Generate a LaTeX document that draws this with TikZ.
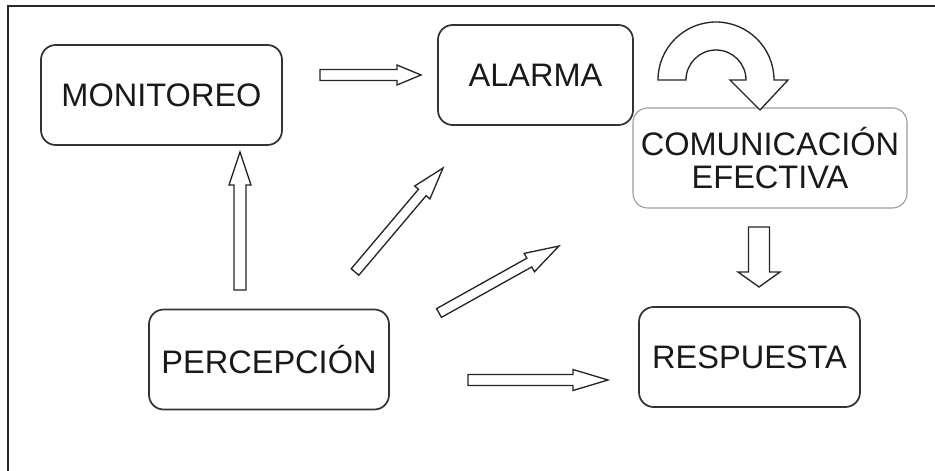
\documentclass[tikz,border=0pt]{standalone}
\usepackage{fontspec}
\setmainfont{Liberation Sans}
\usetikzlibrary{calc}
\newcommand{\px}{0.75pt}
% hollow block arrow: tail, tip, shaft half width, head half width, head length (px)
\newcommand{\blockarrow}[5]{%
  \draw[hollow] let \p1=($(#2)-(#1)$), \n1={atan2(\y1,\x1)}, \n2={veclen(\x1,\y1)} in
    [shift={(#1)}, rotate=\n1] (0pt,{#3*\px}) -- ({\n2-#5*\px},{#3*\px}) -- ({\n2-#5*\px},{#4*\px})
    -- ({\n2},0pt) -- ({\n2-#5*\px},{-#4*\px}) -- ({\n2-#5*\px},{-#3*\px}) -- (0pt,{-#3*\px}) -- cycle;
}
\tikzset{
  box/.style={draw=black!80, line width=1.3pt, rounded corners=11pt, minimum height=75pt,
    align=center, text=black!90, font=\fontsize{24.4}{25}\selectfont},
  hollow/.style={draw=black!85, line width=1pt, fill=white, line join=miter}
}
\begin{document}
\begin{tikzpicture}[x=0.75pt,y=-0.75pt]
  \useasboundingbox (0,0) rectangle (935,471);
  \draw[black!85, line width=1.6pt] (8,471) -- (8,6) -- (935,6);
  % boxes
  \node[box, minimum width={241*\px}] (moni) at (161.5,95) {MONITOREO};
  \node[box, minimum width={195*\px}] (alarma) at (535.5,75) {ALARMA};
  \node[box, minimum width={274*\px}, draw=black!40, line width=0.8pt] (comu) at (770,158) {COMUNICACIÓN\\EFECTIVA};
  \node[box, minimum width={221*\px}] (resp) at (749.5,357) {RESPUESTA};
  \node[box, minimum width={240*\px}] (perc) at (269,359.5) {PERCEPCIÓN};
  % arrow ends
  \coordinate (m1) at (320,75);  \coordinate (m2) at (421,75);
  \coordinate (p1) at (240,290); \coordinate (p2) at (240,152);
  \coordinate (d1) at (355,272); \coordinate (d2) at (443,168);
  \coordinate (e1) at (439,313); \coordinate (e2) at (559,246);
  \coordinate (r1) at (468,380); \coordinate (r2) at (608,380);
  \coordinate (c1) at (759,227); \coordinate (c2) at (759,287);
  \blockarrow{m1}{m2}{5.5}{10}{24}
  \blockarrow{p1}{p2}{6}{11}{33}
  \blockarrow{d1}{d2}{5}{10}{32}
  \blockarrow{e1}{e2}{5}{10.5}{34}
  \blockarrow{r1}{r2}{5.5}{10.5}{35}
  \blockarrow{c1}{c2}{10.5}{21}{15}
  % curved arrow from alarma to comu
  \draw[hollow] (658,80) arc[start angle=180, end angle=0, radius=43.5pt] -- (788,80) -- (760,110)
    -- (730,80) -- (746,80) arc[start angle=0, end angle=180, radius=22.5pt] -- cycle;
\end{tikzpicture}
\end{document}
